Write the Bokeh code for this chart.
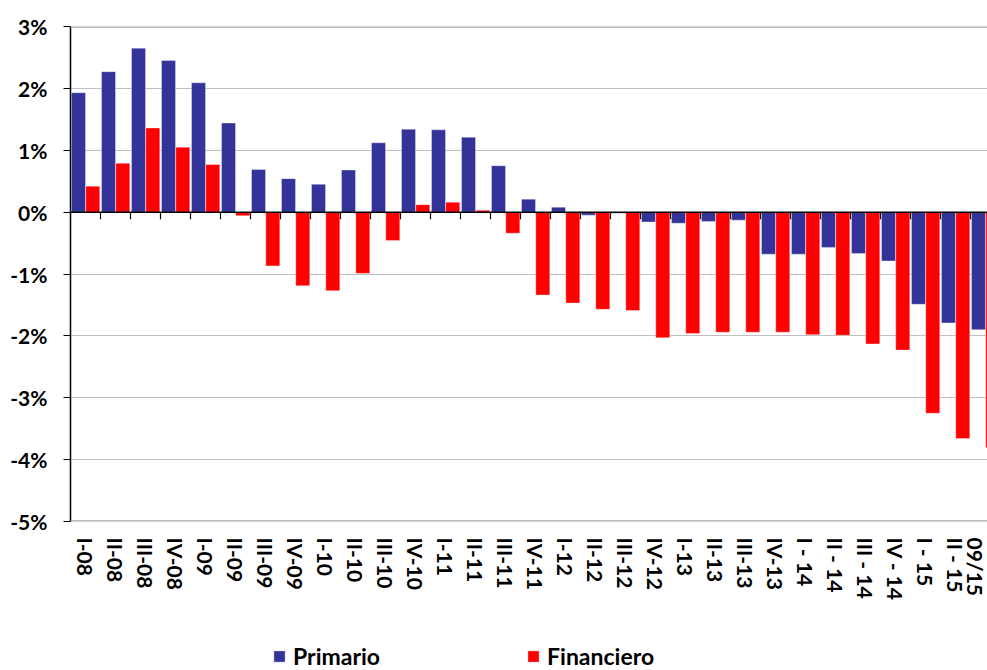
import math
from bokeh.plotting import figure
from bokeh.layouts import column
from bokeh.models import (ColumnDataSource, Range1d, FixedTicker, Span, Legend, LegendItem)
from bokeh.embed import file_html
from bokeh.resources import INLINE

categories = ["I-08", "II-08", "III-08", "IV-08", "I-09", "II-09", "III-09", "IV-09",
              "I-10", "II-10", "III-10", "IV-10", "I-11", "II-11", "III-11", "IV-11",
              "I-12", "II-12", "III-12", "IV-12", "I-13", "II-13", "III-13", "IV-13",
              "I - 14", "II - 14", "III - 14", "IV - 14", "I - 15", "II - 15", "09/15"]

primario = [1.93, 2.27, 2.65, 2.45, 2.09, 1.44, 0.69, 0.54,
            0.45, 0.68, 1.12, 1.34, 1.33, 1.21, 0.75, 0.21,
            0.08, -0.05, -0.02, -0.16, -0.18, -0.15, -0.13, -0.68,
            -0.68, -0.57, -0.67, -0.79, -1.49, -1.79, -1.90]

financiero = [0.42, 0.79, 1.36, 1.05, 0.77, -0.06, -0.87, -1.19,
              -1.27, -0.99, -0.46, 0.12, 0.16, 0.03, -0.34, -1.34,
              -1.47, -1.57, -1.59, -2.03, -1.96, -1.94, -1.94, -1.94,
              -1.98, -1.99, -2.13, -2.23, -3.25, -3.66, -3.81]

series_names = ["Primario", "Financiero"]

y_ticks = [-5, -4, -3, -2, -1, 0, 1, 2, 3]
y_labels = ["-5%", "-4%", "-3%", "-2%", "-1%", "0%", "1%", "2%", "3%"]

FONT = "Lato"
BLUE = "#333399"
RED = "#FF0000"

n = len(categories)
idx = list(range(n))
src = ColumnDataSource(dict(
    xb=[i + 0.267 for i in idx],
    xr=[i + 0.743 for i in idx],
    prim=primario,
    fin=financiero,
))

p = figure(width=987, height=611, output_backend="svg", toolbar_location=None,
           x_range=Range1d(0, 30.567), y_range=Range1d(y_ticks[0], y_ticks[-1]),
           min_border_left=70, min_border_right=0, min_border_top=26, min_border_bottom=90)
p.outline_line_color = None
p.background_fill_color = "white"

# grid
p.xgrid.grid_line_color = None
p.ygrid.grid_line_color = "#BFBFBF"
p.ygrid.grid_line_width = 1
p.ygrid.ticker = FixedTicker(ticks=y_ticks)

# bars
bar_style = dict(line_color="white", line_alpha=0.35, line_width=1)
p.vbar(x="xb", top="prim", bottom=0, width=0.467, source=src, fill_color=BLUE, **bar_style)
p.vbar(x="xr", top="fin", bottom=0, width=0.467, source=src, fill_color=RED, **bar_style)

# top and bottom border lines
p.add_layout(Span(location=y_ticks[-1], dimension="width", line_color="#A6A6A6", line_width=2.5))
p.add_layout(Span(location=y_ticks[0], dimension="width", line_color="#A6A6A6", line_width=2.5))

# zero line with category tick marks
p.add_layout(Span(location=0, dimension="width", line_color="black", line_width=1.5))
p.ray(x=list(range(1, n)), y=[0] * (n - 1), length=7, length_units="screen",
      angle=-math.pi / 2, line_color="black", line_width=1.2)

# y axis
ya = p.yaxis[0]
ya.ticker = FixedTicker(ticks=y_ticks)
ya.major_label_overrides = {t: l for t, l in zip(y_ticks, y_labels)}
ya.axis_line_color = "black"
ya.axis_line_width = 1.5
ya.major_tick_line_color = "black"
ya.major_tick_out = 7
ya.major_tick_in = 0
ya.minor_tick_line_color = None
ya.major_label_standoff = 16
ya.major_label_text_font = FONT
ya.major_label_text_font_style = "bold"
ya.major_label_text_font_size = "21px"
ya.major_label_text_color = "black"

# x axis
xa = p.xaxis[0]
xa.ticker = FixedTicker(ticks=[i + 0.5 for i in idx])
xa.major_label_overrides = {i + 0.5: c for i, c in zip(idx, categories)}
xa.axis_line_color = None
xa.major_tick_line_color = None
xa.minor_tick_line_color = None
xa.major_tick_out = 0
xa.major_tick_in = 0
xa.major_label_standoff = 16
xa.major_label_orientation = "vertical"
xa.major_label_text_font = FONT
xa.major_label_text_font_style = "bold"
xa.major_label_text_font_size = "21px"
xa.major_label_text_color = "black"

# legend strip below the chart (proxy renderers share the data, but the
# strip's y range is far away so only the legend swatches are visible)
pl = figure(width=987, height=59, output_backend="svg", toolbar_location=None,
            x_range=Range1d(0, 1), y_range=Range1d(100, 101),
            x_axis_type=None, y_axis_type=None,
            min_border_left=0, min_border_right=0, min_border_top=0, min_border_bottom=0)
pl.outline_line_color = None
pl.xgrid.grid_line_color = None
pl.ygrid.grid_line_color = None
lb = pl.vbar(x="xb", top="prim", bottom=0, width=0.467, source=src, fill_color=BLUE, **bar_style)
lr = pl.vbar(x="xr", top="fin", bottom=0, width=0.467, source=src, fill_color=RED, **bar_style)

legend = Legend(items=[LegendItem(label=series_names[0], renderers=[lb]),
                       LegendItem(label=series_names[1], renderers=[lr])],
                location=(202, 0), orientation="horizontal",
                border_line_color=None, background_fill_alpha=0,
                padding=0, margin=0, glyph_width=14, glyph_height=14,
                label_standoff=7, spacing=146,
                label_text_font=FONT, label_text_font_style="bold",
                label_text_font_size="23px", label_text_color="black")
pl.add_layout(legend)

layout = column(p, pl, spacing=0)
open("out.html", "w").write(file_html(layout, INLINE))
